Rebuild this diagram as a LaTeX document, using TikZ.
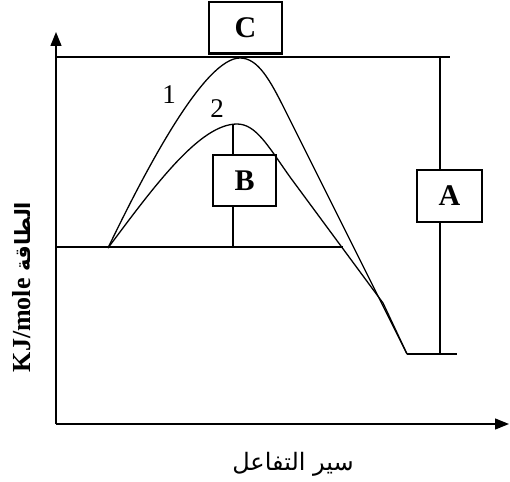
\documentclass[tikz,border=0pt]{standalone}
\usepackage{fontspec}
\setmainfont{Liberation Serif}
\newfontfamily\arabicfont[Script=Arabic]{DejaVu Sans}
\TeXXeTstate=1
\usetikzlibrary{arrows.meta}
\begin{document}
\begin{tikzpicture}[x=1pt,y=-1pt,line width=1.3pt,
  lbox/.style={draw,fill=white,font=\fontsize{30}{32}\selectfont\bfseries,inner sep=0pt},
  num/.style={font=\fontsize{27}{29}\selectfont},
  axisarrow/.style={-{Triangle[length=14pt,width=11pt]}}]
\useasboundingbox (0,0) rectangle (510,481);
% axes
\coordinate (O) at (56,424);
\coordinate (ytip) at (56,32);
\coordinate (xtip) at (509,424);
\draw[axisarrow] (O) -- (ytip);
\draw[axisarrow] (O) -- (xtip);
% level lines
\coordinate (topL) at (56,57);
\coordinate (topR) at (450,57);
\draw (topL) -- (topR);
\coordinate (baseL) at (56,247);
\coordinate (baseR) at (343,247);
\draw (baseL) -- (baseR);
\coordinate (botL) at (407,354);
\coordinate (botR) at (457,354);
\draw (botL) -- (botR);
% A line
\coordinate (aTop) at (440,57);
\coordinate (aBot) at (440,354);
\draw (aTop) -- (aBot);
\node[lbox,minimum width=65pt,minimum height=52pt] (A) at (449.5,196) {A};
% B line
\coordinate (bTop) at (233,124);
\coordinate (bBot) at (233,247);
\draw (bTop) -- (bBot);
\node[lbox,minimum width=63pt,minimum height=51pt] (B) at (244.5,180.5) {B};
% C box
\node[lbox,minimum width=73pt,minimum height=51pt] (C) at (245.5,27.5) {C};
\draw[line width=2.6pt] (C.south west) -- (C.south east);
% curves
\coordinate (start) at (108,248);
\coordinate (end) at (407,354);
\draw (start) .. controls (148,165) and (205,58) .. (240,58)
      .. controls (258,58) and (270,80) .. (285,110) -- (end);
\draw (start) .. controls (155,185) and (200,124) .. (237,124)
      .. controls (256,124) and (268,146) .. (290,177) -- (383,303) -- (end);
\node[num] (n1) at (169,95) {1};
\node[num] (n2) at (217,109) {2};
% labels
\node[rotate=90,anchor=center] (ylab) at (22,287) {\fontsize{26}{28}\selectfont\bfseries KJ/mole {\arabicfont\fontsize{21}{22}\selectfont\beginR الطاقة\endR}};
\node (xlab) at (293,464) {\arabicfont\fontsize{24}{26}\selectfont\beginR سير التفاعل\endR};
\end{tikzpicture}
\end{document}
